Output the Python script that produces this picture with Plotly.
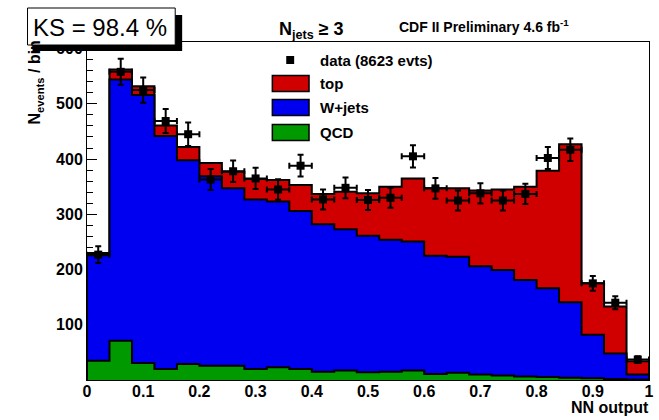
import plotly.graph_objects as go

# ---------------- data ----------------
bin_edges = [round(i * 0.04, 2) for i in range(26)]
data_counts = [227, 558, 525, 469, 445, 363, 378, 365, 345, 388, 327, 348, 326,
               330, 405, 347, 325, 338, 325, 337, 402, 417, 175, 140, 37]
data_err = [15, 23.6, 22.9, 21.7, 21.1, 19.1, 19.4, 19.1, 18.6, 19.7, 18.1, 18.7, 18.1,
            18.2, 20.1, 18.6, 18.0, 18.4, 18.0, 18.4, 20.0, 20.4, 13.2, 11.8, 6.1]
qcd = [35, 71, 31, 20, 29, 26, 26, 20, 23, 20, 15, 17, 14,
       15, 17, 11, 13, 10, 8, 6.5, 5.5, 4, 3, 2, 1]
wjets = [191, 473, 485, 422, 369, 343, 321, 307, 300, 286, 267, 256, 247,
         239, 234, 214, 210, 196, 191, 174.5, 160.5, 137, 79, 46, 9]
top = [4, 18, 16, 19, 24, 24, 30, 37, 39, 47, 55, 68, 77,
       96, 114, 122, 124, 137, 146, 169, 213, 286, 93, 85, 24]
x_ticks = [0, 0.1, 0.2, 0.3, 0.4, 0.5, 0.6, 0.7, 0.8, 0.9, 1]
y_ticks = [100, 200, 300, 400, 500, 600]

# ---------------- layout geometry ----------------
W, H = 659, 420
L, R, T, B = 87, 654, 42, 380


def px2x(p):
    return (p - L) / (R - L)


def py2y(p):
    return (B - p) / (B - T)


centers = [(bin_edges[i] + bin_edges[i + 1]) / 2 for i in range(25)]
half_w = [(bin_edges[i + 1] - bin_edges[i]) / 2 for i in range(25)]

stack_qcd = list(qcd)
stack_w = [q + w for q, w in zip(qcd, wjets)]
stack_top = [q + w + t for q, w, t in zip(qcd, wjets, top)]


def step(vals):
    xs = [bin_edges[0]] + bin_edges[:-1] + [bin_edges[-1], bin_edges[-1]]
    ys = [0] + list(vals) + [vals[-1], 0]
    return xs, ys


RED, BLUE, GREEN = "#d00000", "#0000f0", "#009a00"

fig = go.Figure()
for vals, col, name in [(stack_top, RED, "top"), (stack_w, BLUE, "W+jets"),
                        (stack_qcd, GREEN, "QCD")]:
    xs, ys = step(vals)
    fig.add_trace(go.Scatter(x=xs, y=ys, mode="lines", line_shape="hv",
                             line=dict(color="black", width=2), fill="tozeroy",
                             fillcolor=col, name=name, showlegend=False,
                             hoverinfo="skip"))

fig.add_trace(go.Scatter(
    x=centers, y=data_counts, mode="markers",
    marker=dict(symbol="square", size=8, color="black"),
    error_y=dict(type="data", array=data_err, color="black", thickness=2, width=3),
    error_x=dict(type="data", array=half_w, color="black", thickness=2, width=3),
    showlegend=False, name="data"))

font_b = dict(family="Liberation Sans", size=16, color="black", weight="bold")

fig.update_layout(
    width=W, height=H,
    margin=dict(l=L, r=W - R, t=T, b=H - B, pad=0),
    paper_bgcolor="white", plot_bgcolor="white",
    showlegend=False,
    xaxis=dict(range=[0, 1], tickvals=x_ticks, ticks="inside", ticklen=10,
               showgrid=False, zeroline=False, showline=True, linecolor="black",
               linewidth=1, mirror=True, tickfont=font_b, layer="below traces",
               tickcolor="black", ticklabelstandoff=-3),
    yaxis=dict(range=[0, 612], tickvals=y_ticks, ticks="inside", ticklen=10,
               showgrid=False, zeroline=False, showline=True, linecolor="black",
               linewidth=1, mirror=True, tickfont=font_b, layer="below traces",
               tickcolor="black",
               minor=dict(dtick=20, tick0=0, ticks="inside", ticklen=6,
                          tickcolor="black", showgrid=False)),
)

shapes = []
annos = []


def text(t, xp, yp, size, bold=True, xanchor="center", angle=0):
    f = dict(family="Liberation Sans", size=size, color="black")
    if bold:
        f["weight"] = "bold"
    annos.append(dict(text=t, xref="paper", yref="paper", x=px2x(xp), y=py2y(yp),
                      xanchor=xanchor, yanchor="middle", showarrow=False,
                      textangle=angle, font=f))


# y-axis title (drawn first, partly hidden by the KS box in the reference)
text("N<sub>events</sub> / bin", 35, 82, 16, angle=-90)

# KS box with shadow
shapes.append(dict(type="rect", xref="paper", yref="paper", layer="above",
                   x0=px2x(32), x1=px2x(183), y0=py2y(51), y1=py2y(15),
                   fillcolor="black", line=dict(width=0)))
shapes.append(dict(type="rect", xref="paper", yref="paper", layer="above",
                   x0=px2x(27), x1=px2x(176), y0=py2y(45), y1=py2y(8),
                   fillcolor="white", line=dict(color="black", width=1)))
text("KS = 98.4 %", 100, 27, 24, bold=False)

# Legend (ROOT-style, no border)
leg_boxes = [(RED, "top", 83.5), (BLUE, "W+jets", 107.5), (GREEN, "QCD", 132.5)]
for col, lab, yc in leg_boxes:
    shapes.append(dict(type="rect", xref="paper", yref="paper", layer="above",
                       x0=px2x(274), x1=px2x(311), y0=py2y(yc + 8), y1=py2y(yc - 8),
                       fillcolor=col, line=dict(color="black", width=1.5)))
    text(lab, 320, yc, 15, xanchor="left")
shapes.append(dict(type="rect", xref="paper", yref="paper", layer="above",
                   x0=px2x(288), x1=px2x(296), y0=py2y(64), y1=py2y(56),
                   fillcolor="black", line=dict(width=0)))
text("data (8623 evts)", 320, 60, 15, xanchor="left")

# Titles
text("N<sub>jets</sub> \u2265 3", 314, 31, 18)
text("CDF II Preliminary 4.6 fb<sup>-1</sup>", 488, 26, 14)
text("NN output", 656, 407, 16, xanchor="right")

fig.update_layout(shapes=shapes, annotations=annos)
fig.write_html("out.html")
